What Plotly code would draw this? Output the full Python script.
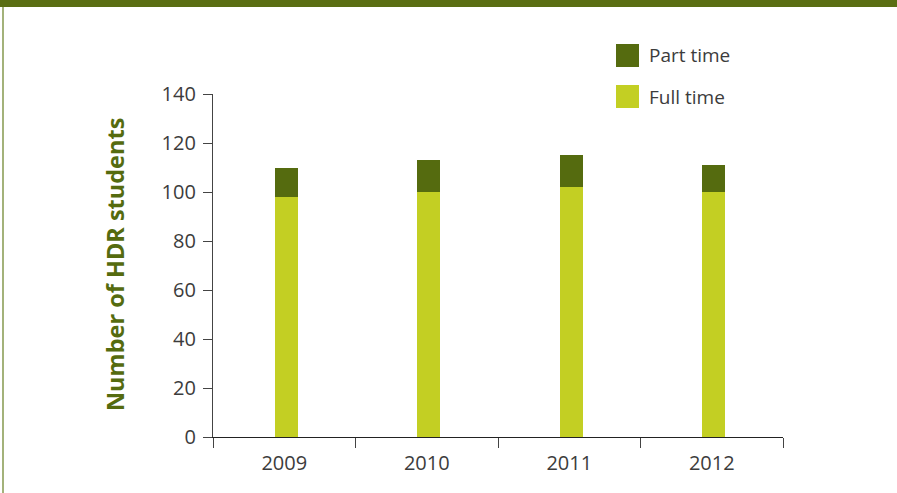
import plotly.graph_objects as go

# HDR student numbers by year
years = ["2009", "2010", "2011", "2012"]
full_time = [98, 100, 102, 100]
part_time = [12, 13, 13, 11]

series_names = ["Full time", "Part time"]
series_colors = ["#c3cf23", "#556b0f"]
y_ticks = [0, 20, 40, 60, 80, 100, 120, 140]

W, H = 897, 493
L, R, T, B = 213, 114, 94, 56
plot_w = W - L - R
plot_h = H - T - B

font_family = "Open Sans, Noto Sans, sans-serif"
tick_color = "#3c3c3c"

fig = go.Figure()
for name, vals, col in zip(series_names, [full_time, part_time], series_colors):
    fig.add_trace(go.Bar(
        x=years, y=vals, name=name, marker=dict(color=col, line=dict(width=0)),
        width=0.16, offset=-0.065, showlegend=False,
    ))


def px_x(px):
    return (px - L) / plot_w


def px_y(py):
    return (H - B - py) / plot_h


shapes = [
    # green header band
    dict(type="rect", xref="paper", yref="paper", x0=px_x(0), x1=px_x(W),
         y0=px_y(7), y1=px_y(0), fillcolor="#5a6e13", line=dict(width=0), layer="below"),
    # thin left frame line
    dict(type="line", xref="paper", yref="paper", x0=px_x(3), x1=px_x(3),
         y0=px_y(H), y1=px_y(7), line=dict(color="#a3b27a", width=2)),
]

annotations = []
# legend drawn as swatches with labels (Part time on top)
legend_items = [("Part time", series_colors[1], 55.5), ("Full time", series_colors[0], 96.5)]
for label, col, cy in legend_items:
    shapes.append(dict(type="rect", xref="paper", yref="paper",
                       x0=px_x(616), x1=px_x(639), y0=px_y(cy + 11.5), y1=px_y(cy - 11.5),
                       fillcolor=col, line=dict(width=0)))
    annotations.append(dict(xref="paper", yref="paper", x=px_x(647), y=px_y(cy),
                            text=label, showarrow=False, xanchor="left", yanchor="middle",
                            font=dict(family=font_family, size=19, color=tick_color)))

annotations.append(dict(
    xref="paper", yref="paper", x=px_x(115), y=px_y(265),
    text="<b>Number of HDR students</b>", textangle=-90, showarrow=False,
    xanchor="center", yanchor="middle",
    font=dict(family=font_family, size=23.5, color="#556b0f"),
))

fig.update_layout(
    width=W, height=H,
    margin=dict(l=L, r=R, t=T, b=B, autoexpand=False),
    barmode="stack",
    paper_bgcolor="white", plot_bgcolor="white",
    shapes=shapes, annotations=annotations,
    font=dict(family=font_family, size=20, color=tick_color),
)
fig.update_xaxes(
    type="category", showline=True, linecolor="#222222", linewidth=1.2,
    ticks="outside", tickson="boundaries", ticklen=10, tickcolor="#444444",
    tickwidth=1.2, showgrid=False, zeroline=False, ticklabelstandoff=8,
    tickfont=dict(family=font_family, size=20, color=tick_color),
)
fig.update_yaxes(
    range=[0, 140], tickvals=y_ticks, showline=True, linecolor="#444444",
    linewidth=1.2, ticks="outside", ticklen=9, tickcolor="#444444", tickwidth=1.2,
    showgrid=False, zeroline=False, ticklabelstandoff=3,
    tickfont=dict(family=font_family, size=20, color=tick_color),
)

fig.write_html("out.html")
